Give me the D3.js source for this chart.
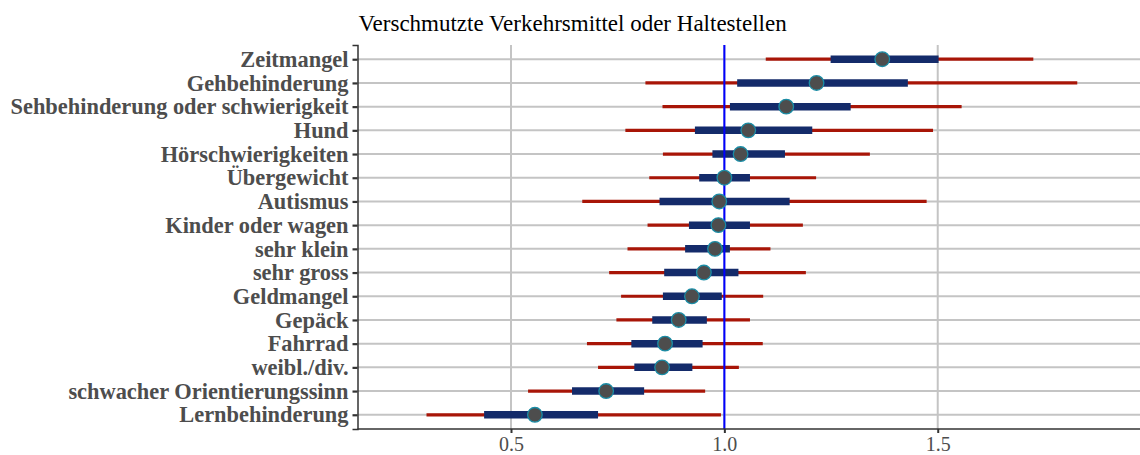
<!DOCTYPE html>
<html>
<head>
<meta charset="utf-8">
<script src="https://cdn.jsdelivr.net/npm/d3@7"></script>
<style>
  html, body { margin: 0; padding: 0; background: #ffffff; }
  svg { display: block; }
  text { font-family: "Liberation Serif", "Times New Roman", serif; }
</style>
</head>
<body>
<svg id="chart" width="1140" height="455"></svg>
<script>
// Odds ratios with 50% (inner) and 95% (outer) intervals, top to bottom
const categories = [
  "Zeitmangel", "Gehbehinderung", "Sehbehinderung oder schwierigkeit", "Hund",
  "Hörschwierigkeiten", "Übergewicht", "Autismus", "Kinder oder wagen",
  "sehr klein", "sehr gross", "Geldmangel", "Gepäck", "Fahrrad",
  "weibl./div. ", "schwacher Orientierungssinn", "Lernbehinderung"
];
const estimate = [1.370, 1.216, 1.145, 1.056, 1.038, 1.000, 0.988, 0.986,
                  0.978, 0.952, 0.924, 0.893, 0.861, 0.854, 0.723, 0.556];
const lower95  = [1.097, 0.815, 0.855, 0.768, 0.856, 0.824, 0.667, 0.820,
                  0.773, 0.730, 0.758, 0.747, 0.678, 0.704, 0.540, 0.302];
const upper95  = [1.724, 1.827, 1.556, 1.489, 1.341, 1.215, 1.474, 1.184,
                  1.108, 1.191, 1.091, 1.060, 1.090, 1.034, 0.955, 0.992];
const lower50  = [1.249, 1.030, 1.013, 0.931, 0.972, 0.941, 0.848, 0.917,
                  0.908, 0.859, 0.856, 0.831, 0.782, 0.789, 0.643, 0.437];
const upper50  = [1.502, 1.430, 1.296, 1.206, 1.142, 1.060, 1.153, 1.060,
                  1.013, 1.033, 0.994, 0.959, 0.949, 0.925, 0.812, 0.704];
const xTicks = [0.5, 1.0, 1.5];
const xTickLabels = ["0.5", "1.0", "1.5"];
const refValue = 1.0;
const title = "Verschmutzte Verkehrsmittel oder Haltestellen";

const rows = categories.map((c, i) => ({
  cat: c, est: estimate[i], lo95: lower95[i], hi95: upper95[i],
  lo50: lower50[i], hi50: upper50[i]
}));

const svg = d3.select("#chart");
const panel = { left: 357.5, right: 1140, top: 45, bottom: 429 };

const x = d3.scaleLinear().domain([0.1403, 1.974]).range([panel.left, panel.right]);
const y = d3.scalePoint().domain(categories).range([panel.top, panel.bottom]).padding(0.6);

// title
svg.append("text")
  .attr("x", panel.left + 1)
  .attr("y", 31)
  .style("font-family", "'Liberation Serif', serif")
  .style("font-size", "23px")
  .attr("fill", "#000")
  .text(title);

const grid = svg.append("g");
// horizontal grid lines at each category
grid.selectAll("line.h").data(categories).join("line")
  .attr("class", "h")
  .attr("x1", panel.left).attr("x2", panel.right)
  .attr("y1", d => y(d)).attr("y2", d => y(d))
  .attr("stroke", "#c4c4c4").attr("stroke-width", 2);
// vertical grid lines
grid.selectAll("line.v").data(xTicks).join("line")
  .attr("class", "v")
  .attr("x1", d => x(d)).attr("x2", d => x(d))
  .attr("y1", panel.top).attr("y2", panel.bottom)
  .attr("stroke", "#c4c4c4").attr("stroke-width", 2);

// 95% intervals
svg.append("g").selectAll("line").data(rows).join("line")
  .attr("x1", d => x(d.lo95)).attr("x2", d => x(d.hi95))
  .attr("y1", d => y(d.cat)).attr("y2", d => y(d.cat))
  .attr("stroke", "#a81507").attr("stroke-width", 3.2);

// 50% intervals
svg.append("g").selectAll("line").data(rows).join("line")
  .attr("x1", d => x(d.lo50)).attr("x2", d => x(d.hi50))
  .attr("y1", d => y(d.cat)).attr("y2", d => y(d.cat))
  .attr("stroke", "#142b6a").attr("stroke-width", 7.5);

// reference line
svg.append("line")
  .attr("x1", x(refValue)).attr("x2", x(refValue))
  .attr("y1", panel.top).attr("y2", panel.bottom)
  .attr("stroke", "#0000ff").attr("stroke-width", 2);

// point estimates
svg.append("g").selectAll("circle").data(rows).join("circle")
  .attr("cx", d => x(d.est)).attr("cy", d => y(d.cat))
  .attr("r", 7.3)
  .attr("fill", "#4d4d4d")
  .attr("stroke", "#1a8ca5").attr("stroke-width", 1.3);

// axes
const yAxis = svg.append("g")
  .attr("transform", `translate(${panel.left},0)`)
  .call(d3.axisLeft(y).tickSize(5).tickPadding(4));
yAxis.select(".domain").attr("stroke", "#333").attr("stroke-width", 1.5);
yAxis.selectAll(".tick line").attr("stroke", "#333").attr("stroke-width", 2.2);
yAxis.selectAll(".tick text")
  .style("font-family", "'Liberation Serif', serif")
  .style("font-size", "22.4px").style("font-weight", "bold").attr("fill", "#4d4d4d");

const xAxis = svg.append("g")
  .attr("transform", `translate(0,${panel.bottom})`)
  .call(d3.axisBottom(x).tickValues(xTicks).tickFormat((d, i) => xTickLabels[i])
    .tickSize(4).tickPadding(4));
xAxis.select(".domain").attr("stroke", "#333").attr("stroke-width", 1.5)
  .attr("d", `M${panel.left},0H${panel.right}`);
xAxis.selectAll(".tick line").attr("stroke", "#333").attr("stroke-width", 2);
xAxis.selectAll(".tick text")
  .attr("dy", "0.68em")
  .style("font-family", "'Liberation Serif', serif")
  .style("font-size", "20px").attr("fill", "#4d4d4d");
</script>
</body>
</html>
